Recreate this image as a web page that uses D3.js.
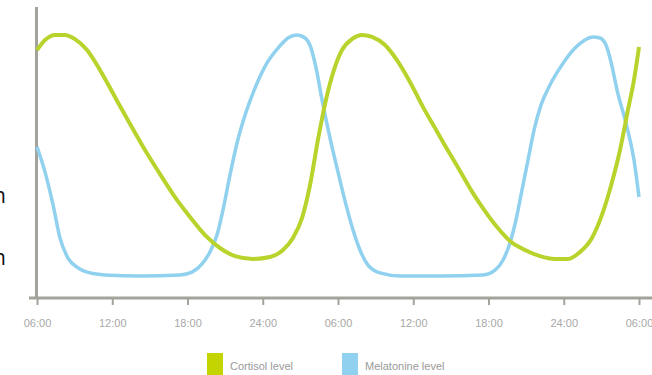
<!DOCTYPE html>
<html><head><meta charset="utf-8">
<script src="https://cdn.jsdelivr.net/npm/d3@7"></script>
<style>body{margin:0;background:#fff;}svg{display:block;}</style>
</head><body>
<svg id="c" width="652" height="375"></svg>
<script>
const tickLabels = ["06:00","12:00","18:00","24:00","06:00","12:00","18:00","24:00","06:00"];
const tickHours = [0,6,12,18,24,30,36,42,48];

const cortisolHours = [0,0.64,1.44,2.23,3.03,3.99,5.02,6.22,7.42,8.61,9.81,11.0,12.2,13.4,14.59,15.79,17.22,18.58,19.61,20.41,21.13,21.77,22.4,23.04,23.68,24.32,25.11,25.91,26.71,27.75,28.7,29.74,30.77,31.73,32.69,33.73,34.76,35.72,36.68,37.71,38.91,40.11,41.3,42.34,43.3,44.25,45.13,45.85,46.49,47.12,47.6,48];
const cortisolValues = [88.2,91.8,93.6,93.6,92.1,88.2,81.1,71.4,61.8,52.5,43.9,35.7,28.6,22.1,17.5,14.6,13.6,14.3,16.8,21.1,28.2,40,56.1,70.4,81.1,88.2,92.1,93.6,92.9,90,84.6,76.8,67.9,60.4,52.9,45,37.1,30.7,25,20,16.8,14.6,13.6,13.6,16.1,21.1,30.4,41.1,52.5,66.8,77.5,89.3];

const melatoninHours = [0,0.64,1.28,1.83,2.47,3.27,4.23,5.42,8.21,11.4,12.36,13.16,13.79,14.35,14.83,15.39,15.95,16.59,17.38,18.34,19.22,20.01,20.73,21.37,21.85,22.25,22.73,23.36,24.0,24.64,25.2,25.75,26.39,27.35,28.94,32.13,35.56,36.52,37.16,37.71,38.19,38.67,39.15,39.63,40.19,40.9,41.86,42.9,43.69,44.33,44.89,45.37,45.77,46.25,47.04,47.6,48];
const melatoninValues = [53.6,44.6,32.9,21.1,13.9,10.4,8.6,7.9,7.5,7.9,8.9,11.8,16.1,22.1,31.1,43.6,55,65,74.6,83.6,88.9,92.5,93.6,92.5,88.9,81.8,70.4,56.8,44.6,32.9,23.9,16.8,11.4,8.6,7.5,7.5,7.9,9.6,13.2,19.3,27.5,38.2,48.9,59.6,68.6,75.7,82.9,88.9,91.8,92.9,92.5,90,83.9,73.9,60.7,48.9,35.7];

const seriesNames = ["Cortisol level","Melatonine level"];
const seriesColors = ["#b9d32c","#8fd1ee"];
const legendColors = ["#c3d400","#8fd1ee"];

const svg = d3.select("#c");
const x = d3.scaleLinear().domain([0,48]).range([37,639]);
const y = d3.scaleLinear().domain([0,100]).range([297,17]);

// stray clipped text on the left
svg.append("text").attr("x",6).attr("y",203).attr("text-anchor","end")
  .attr("font-family","'Open Sans',sans-serif").attr("font-size",21).attr("fill","#111").text("n");
svg.append("text").attr("x",6).attr("y",265).attr("text-anchor","end")
  .attr("font-family","'Open Sans',sans-serif").attr("font-size",21).attr("fill","#111").text("n");

// axes
svg.append("line").attr("x1",36.5).attr("x2",36.5).attr("y1",7).attr("y2",299)
  .attr("stroke","#a3a39b").attr("stroke-width",3);
const xAxis = d3.axisBottom(x).tickValues(tickHours).tickFormat((d,i)=>tickLabels[i]).tickSize(7).tickPadding(14);
const gx = svg.append("g").attr("transform","translate(0,298)").call(xAxis);
gx.select(".domain").remove();
gx.insert("line",":first-child").attr("x1",29).attr("x2",652).attr("y1",0).attr("y2",0)
  .attr("stroke","#a3a39b").attr("stroke-width",3);
gx.selectAll(".tick line").attr("stroke","#a3a39b").attr("stroke-width",2);
gx.selectAll(".tick text").attr("fill","#a8a8a8").attr("font-size",11)
  .attr("font-family","'Liberation Sans',Arial,sans-serif");

const line = d3.line().x(d=>x(d[0])).y(d=>y(d[1])).curve(d3.curveMonotoneX);
const melPts = melatoninHours.map((h,i)=>[h,melatoninValues[i]]);
const corPts = cortisolHours.map((h,i)=>[h,cortisolValues[i]]);
svg.append("path").attr("d",line(melPts)).attr("fill","none").attr("stroke",seriesColors[1]).attr("stroke-width",3.5).attr("stroke-linejoin","round");
svg.append("path").attr("d",line(corPts)).attr("fill","none").attr("stroke",seriesColors[0]).attr("stroke-width",4).attr("stroke-linejoin","round");

// legend
const legX = [207,342];
const leg = svg.append("g");
seriesNames.forEach((n,i)=>{
  leg.append("rect").attr("x",legX[i]).attr("y",353).attr("width",16).attr("height",22)
    .attr("fill", legendColors[i]);
  leg.append("text").attr("x",legX[i]+23).attr("y",370).attr("font-size",11)
    .attr("font-family","'Liberation Sans',Arial,sans-serif").attr("fill","#9a9a9a").text(n);
});
</script>
</body></html>
